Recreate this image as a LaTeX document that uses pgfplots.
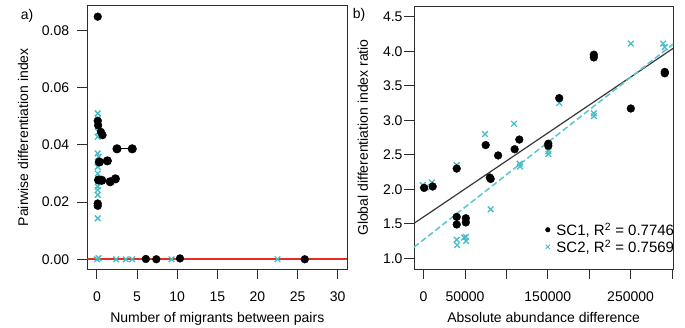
\documentclass[border=0pt]{standalone}
\usepackage{fontspec}
\setmainfont{Liberation Sans}
\usepackage{pgfplots}
\pgfplotsset{compat=1.18}

\definecolor{sccyan}{RGB}{70,190,200}
\definecolor{fitred}{RGB}{232,45,35}
\definecolor{boxgray}{RGB}{45,45,45}
\definecolor{fitgray}{RGB}{55,55,55}

\pgfplotsset{
  rpanel/.style={
    scale only axis,
    anchor=south west,
    tick pos=left,
    tick align=outside,
    major tick length=10bp,
    axis line style={boxgray, line width=0.9bp},
    tick style={boxgray, line width=0.9bp},
    font=\fontsize{14bp}{16bp}\selectfont,
    /pgf/number format/assume math mode=true,
    xticklabel style={yshift=-9bp},
    scaled ticks=false,
  },
  sc1/.style={only marks, mark=*, mark size=3.9bp, black},
  sc2/.style={only marks, mark=x, mark size=4bp, sccyan, line width=1.3bp},
}

\begin{document}
\begin{tikzpicture}
\useasboundingbox (0,0) rectangle (685bp,328bp);

% (a) pairwise differentiation against migrants
\begin{axis}[rpanel,
  at={(87.3bp,59bp)}, width=260bp, height=263.5bp,
  xmin=-1.2, xmax=31.2, ymin=-0.0034, ymax=0.0887,
  xtick={0,5,...,30},
  ytick={0,0.02,0.04,0.06,0.08},
  yticklabel style={/pgf/number format/fixed, /pgf/number format/fixed zerofill,
                    /pgf/number format/precision=2, xshift=-4.6bp},
  xlabel={Number of migrants between pairs},
  ylabel={Pairwise differentiation index},
  xlabel style={at={(axis description cs:0.5,-0.188)}, anchor=center},
  ylabel style={at={(axis description cs:-0.247,0.5)}, anchor=center},
]
\addplot[fitred, line width=1.8bp] coordinates {(-1.2,0) (31.2,0)};
\addplot[sc2] coordinates {
  (0.1,0.0510) (0.1,0.0492) (0.2,0.0480) (0.1,0.0463) (0.2,0.0445) (0.1,0.0428)
  (0.1,0.0370) (0.2,0.0358) (0.1,0.0341) (0.1,0.0323) (0.1,0.0300) (0.2,0.0280)
  (0.1,0.0254) (0.1,0.0242) (0.1,0.0225) (0.1,0.0190) (0.1,0.0143)
  (0.0,0.0000) (0.2,0.0004) (2.4,0.0000) (3.6,0.0000) (4.4,0.0000)
  (9.3,0.0000) (22.5,0.0000)
};
\addplot[black, line width=1.3bp, mark=*, mark size=3.9bp] coordinates {(2.5,0.0386) (4.4,0.0386)};
\addplot[black, line width=1.3bp, mark=*, mark size=3.9bp] coordinates {(0.3,0.0340) (1.3,0.0344)};
\addplot[black, line width=1.3bp, mark=*, mark size=3.9bp] coordinates {(0.2,0.0277) (0.6,0.0276) (1.65,0.0271) (2.3,0.0281)};
\addplot[sc1] coordinates {
  (0.1,0.0848) (0.1,0.0484) (0.15,0.0468) (0.5,0.0445) (0.7,0.0434)
  (0.1,0.0195) (0.1,0.0187)
  (6.1,0.0001) (7.4,0.0000) (10.35,0.0003) (25.9,0.0000)
};
\end{axis}
\node[font=\fontsize{14bp}{16bp}\selectfont] at (27bp,312bp) {a)};

% (b) global differentiation ratio against abundance difference
\begin{axis}[rpanel,
  at={(414bp,59bp)}, width=259.3bp, height=263bp,
  xmin=-11600, xmax=301600, ymin=0.845, ymax=4.655,
  xtick={0,50000,100000,150000,200000,250000,300000},
  xticklabels={0,50000,,150000,,250000,},
  ytick={1,1.5,2,2.5,3,3.5,4,4.5},
  yticklabel style={/pgf/number format/fixed, /pgf/number format/fixed zerofill,
                    /pgf/number format/precision=1, xshift=2bp},
  xlabel={Absolute abundance difference},
  ylabel={Global differentiation index ratio},
  xlabel style={at={(axis description cs:0.5,-0.186)}, anchor=center},
  ylabel style={at={(axis description cs:-0.197,0.5)}, anchor=center},
  legend style={at={(rel axis cs:1,0)}, anchor=south east, yshift=14bp, xshift=2bp,
    draw=none, fill=none, inner sep=0pt, row sep=1bp,
    nodes={inner sep=1bp},
    /tikz/every odd column/.append style={column sep=5bp},
    font=\fontsize{15bp}{17bp}\selectfont},
  legend cell align=left,
]
% least-squares fits
\addplot[fitgray, line width=1.2bp, forget plot] coordinates {(-11600,1.506) (301600,4.043)};
\addplot[sccyan!85, line width=1.6bp, dash pattern=on 6bp off 3bp, forget plot]
  coordinates {(-11600,1.161) (301600,4.105)};
\addplot[sc2, forget plot] coordinates {
  (-1000,2.06) (3000,2.03) (10000,2.10)
  (40000,2.35)
  (40000,1.27) (40500,1.19) (49000,1.30) (51300,1.25) (51000,1.31)
  (74200,2.80) (81000,1.71) (109200,2.95) (116400,2.33) (116000,2.37)
  (150600,2.51) (150600,2.55) (163800,3.25)
  (205600,3.10) (205600,3.06) (250300,4.11) (289300,4.11) (291300,4.06)
};
\addplot[sc1, forget plot] coordinates {
  (600,2.02) (11000,2.04) (40000,2.30)
  (40000,1.60) (40000,1.49) (51000,1.58) (51000,1.52)
  (75000,2.64) (90000,2.49) (80000,2.17) (81000,2.15)
  (110000,2.58) (115600,2.72) (150600,2.66) (150600,2.63)
  (163800,3.32) (205600,3.95) (205600,3.91) (250300,3.17)
  (291300,3.70) (291300,3.68)
};
\addlegendimage{legend image code/.code={\fill[black] (0bp,0bp) circle (2.3bp);}}
\addlegendentry{SC1, R\textsuperscript{2} = 0.7746}
\addlegendimage{legend image code/.code={\draw[sccyan, line width=0.9bp] (-2.2bp,-2.2bp) -- (2.2bp,2.2bp) (-2.2bp,2.2bp) -- (2.2bp,-2.2bp);}}
\addlegendentry{SC2, R\textsuperscript{2} = 0.7569}
\end{axis}
\node[font=\fontsize{14bp}{16bp}\selectfont] at (359bp,313bp) {b)};
\end{tikzpicture}
\end{document}
